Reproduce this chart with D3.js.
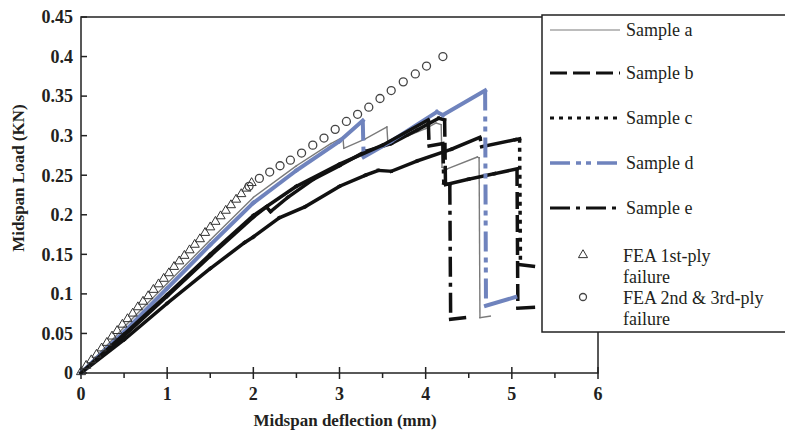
<!DOCTYPE html>
<meta charset="utf-8">
<style>
body { margin: 0; background: #fff; }
text { font-family: "Liberation Serif", "DejaVu Serif", serif; fill: #231f20; }
.tick-label { font-weight: bold; font-size: 18px; }
.axis-title { font-weight: bold; font-size: 17px; }
.legend text { font-size: 18px; }
</style>
<svg width="785" height="433"></svg>
<script src="https://d3js.org/d3.v7.min.js"></script>
<script>

// ---- data ----
var xTicks = [0, 1, 2, 3, 4, 5, 6];
var xMinorTicks = [0.5, 1.5, 2.5, 3.5, 4.5, 5.5];
var yTicks = [0, 0.05, 0.1, 0.15, 0.2, 0.25, 0.3, 0.35, 0.4, 0.45];
var yTickLabels = ["0", "0.05", "0.1", "0.15", "0.2", "0.25", "0.3", "0.35", "0.4", "0.45"];

var sampleA = [[0,0],[0.5,0.058],[1,0.113],[1.5,0.168],[2,0.222],[2.5,0.262],[2.9,0.29],[3.04,0.298],
  [3.05,0.284],[3.3,0.296],[3.55,0.311],[3.56,0.293],[3.8,0.300],[4.0,0.309],[4.12,0.316],[4.18,0.314],
  [4.19,0.26],[4.25,0.258],[4.6,0.273],[4.62,0.272],[4.63,0.07],[4.75,0.072]];

var sampleB = [[0,0],[0.5,0.047],[1,0.097],[1.5,0.148],[2,0.197],[2.15,0.21],[2.2,0.204],[2.4,0.222],
  [2.7,0.245],[3.0,0.262],[3.3,0.28],[3.6,0.29],[3.9,0.307],[4.15,0.322],[4.22,0.32],[4.23,0.238],
  [4.5,0.245],[4.8,0.252],[5.06,0.258],[5.07,0.082],[5.25,0.083]];

var sampleC = [[0,0],[0.5,0.042],[1,0.088],[1.5,0.132],[1.9,0.165],[2.0,0.172],[2.3,0.196],[2.6,0.21],
  [3.0,0.236],[3.3,0.25],[3.45,0.256],[3.6,0.255],[3.9,0.268],[4.3,0.283],[4.63,0.298],[4.65,0.286],
  [5.04,0.295],[5.09,0.296],[5.1,0.137],[5.25,0.135]];

var sampleD = [[0,0],[0.5,0.052],[1,0.107],[1.5,0.162],[2,0.215],[2.5,0.256],[3.0,0.293],[3.27,0.319],
  [3.28,0.273],[3.6,0.293],[4.13,0.33],[4.2,0.326],[4.69,0.357],[4.7,0.085],[5.04,0.096]];

var sampleE = [[0,0],[0.5,0.049],[1,0.099],[1.5,0.15],[2,0.199],[2.5,0.236],[3.0,0.264],[3.5,0.288],
  [4.03,0.32],[4.04,0.287],[4.2,0.29],[4.21,0.24],[4.28,0.238],[4.29,0.068],[4.45,0.07]];

var fea1st = [[0,0],[0.06,0.008],[0.12,0.015],[0.18,0.022],[0.24,0.030],[0.30,0.037],[0.36,0.045],
  [0.42,0.052],[0.48,0.060],[0.54,0.067],[0.60,0.074],[0.66,0.082],[0.72,0.089],[0.78,0.096],
  [0.84,0.104],[0.90,0.111],[0.96,0.118],[1.02,0.125],[1.08,0.133],[1.14,0.140],[1.20,0.147],
  [1.26,0.154],[1.32,0.161],[1.38,0.168],[1.44,0.176],[1.50,0.183],[1.56,0.190],[1.62,0.197],
  [1.68,0.204],[1.74,0.211],[1.80,0.218],[1.86,0.225],[1.92,0.232],[1.98,0.239]];

var fea2nd = [[1.95,0.236],[2.07,0.246],[2.19,0.254],[2.31,0.262],[2.43,0.269],[2.56,0.278],[2.69,0.288],
  [2.82,0.297],[2.95,0.308],[3.08,0.318],[3.21,0.327],[3.34,0.336],[3.47,0.347],[3.60,0.357],
  [3.74,0.368],[3.88,0.378],[4.01,0.388],[4.20,0.400]];

var seriesNames = ["Sample a", "Sample b", "Sample c", "Sample d", "Sample e"];
var seriesData = [sampleA, sampleB, sampleC, sampleD, sampleE];

// ---- styles ----
var styles = [
  {color: "#7a7a7a", width: 1.4, dash: null},
  {color: "#111", width: 3.5, dash: "17,6"},
  {color: "#111", width: 3.5, dash: "4,5"},
  {color: "#6f83bd", width: 4, dash: "20,6,5,5,5,6"},
  {color: "#111", width: 3.5, dash: "20,6,4,6"}
];

var svg = d3.select("svg");

var x = d3.scaleLinear().domain([0, 6]).range([81, 598]);
var y = d3.scaleLinear().domain([0, 0.45]).range([373, 17]);

// plot frame
svg.append("rect")
    .attr("x", x(0)).attr("y", y(0.45))
    .attr("width", x(6) - x(0)).attr("height", y(0) - y(0.45))
    .attr("fill", "none").attr("stroke", "#222").attr("stroke-width", 1.5);

// x ticks
svg.append("g").selectAll("line").data(xTicks).enter().append("line")
    .attr("x1", function(d) { return x(d); }).attr("x2", function(d) { return x(d); })
    .attr("y1", y(0) - 6).attr("y2", y(0) + 6)
    .attr("stroke", "#222").attr("stroke-width", 1.5);
svg.append("g").selectAll("line").data(xMinorTicks).enter().append("line")
    .attr("x1", function(d) { return x(d); }).attr("x2", function(d) { return x(d); })
    .attr("y1", y(0)).attr("y2", y(0) + 5)
    .attr("stroke", "#222").attr("stroke-width", 1.5);
svg.append("g").selectAll("text").data(xTicks).enter().append("text")
    .attr("class", "tick-label")
    .attr("x", function(d) { return x(d); })
    .attr("y", 400)
    .attr("text-anchor", "middle")
    .text(function(d) { return d; });

// y ticks
svg.append("g").selectAll("line").data(yTicks).enter().append("line")
    .attr("x1", x(0)).attr("x2", x(0) + 6)
    .attr("y1", function(d) { return y(d); }).attr("y2", function(d) { return y(d); })
    .attr("stroke", "#222").attr("stroke-width", 1.5);
svg.append("g").selectAll("text").data(yTicks).enter().append("text")
    .attr("class", "tick-label")
    .attr("x", 73)
    .attr("y", function(d) { return y(d); })
    .attr("dy", "0.35em")
    .attr("text-anchor", "end")
    .text(function(d, i) { return yTickLabels[i]; });

// axis titles
svg.append("text").attr("class", "axis-title")
    .attr("x", 345).attr("y", 426).attr("text-anchor", "middle")
    .text("Midspan deflection (mm)");
svg.append("text").attr("class", "axis-title")
    .attr("transform", "translate(24,178) rotate(-90)")
    .attr("text-anchor", "middle")
    .text("Midspan Load (KN)");

// curves: each segment drawn on its own so the dash pattern restarts,
// the steep load drops show the pattern, the dense rising parts look solid
var curves = svg.append("g");
seriesData.forEach(function(data, i) {
  var st = styles[i];
  var segs = d3.pairs(data);
  curves.append("g").selectAll("line").data(segs).enter().append("line")
      .each(function(d) { d.drop = Math.abs(d[1][0] - d[0][0]) < 0.03; })
      .attr("x1", function(d) { return x(d[0][0]); })
      .attr("y1", function(d) { return y(d[0][1]); })
      .attr("x2", function(d) { return x(d[1][0]); })
      .attr("y2", function(d) { return y(d[1][1]); })
      .attr("stroke", st.color)
      .attr("stroke-width", st.width)
      .attr("stroke-linecap", function(d) { return d.drop && st.dash ? "butt" : "square"; })
      .attr("stroke-dasharray", function(d) { return d.drop ? st.dash : null; });
});

// FEA markers
var tri = d3.symbol().type(d3.symbolTriangle).size(36);
svg.append("g").selectAll("path").data(fea1st).enter().append("path")
    .attr("d", tri)
    .attr("transform", function(d) { return "translate(" + x(d[0]) + "," + (y(d[1]) - 1) + ")"; })
    .attr("fill", "none").attr("stroke", "#333").attr("stroke-width", 1);
svg.append("g").selectAll("circle").data(fea2nd).enter().append("circle")
    .attr("cx", function(d) { return x(d[0]); })
    .attr("cy", function(d) { return y(d[1]); })
    .attr("r", 4)
    .attr("fill", "none").attr("stroke", "#444").attr("stroke-width", 1.3);

// legend
var legend = svg.append("g").attr("class", "legend");
legend.append("rect")
    .attr("x", 542).attr("y", 15).attr("width", 260).attr("height", 317)
    .attr("fill", "#fff").attr("stroke", "#222").attr("stroke-width", 1.5);

var legendY = [30, 73, 118, 163, 208];
seriesNames.forEach(function(name, i) {
  var st = styles[i];
  legend.append("line")
      .attr("x1", 550).attr("x2", 620)
      .attr("y1", legendY[i]).attr("y2", legendY[i])
      .attr("stroke", st.color)
      .attr("stroke-width", i === 0 ? 1.2 : st.width - 0.5)
      .attr("stroke-dasharray", st.dash);
  legend.append("text")
      .attr("x", 626).attr("y", legendY[i] + 6)
      .text(name);
});

legend.append("path")
    .attr("d", tri)
    .attr("transform", "translate(583,255)")
    .attr("fill", "none").attr("stroke", "#333").attr("stroke-width", 1);
legend.append("text").attr("x", 623).attr("y", 262).text("FEA 1st-ply");
legend.append("text").attr("x", 623).attr("y", 283).text("failure");
legend.append("circle")
    .attr("cx", 583).attr("cy", 297).attr("r", 3.5)
    .attr("fill", "none").attr("stroke", "#444").attr("stroke-width", 1.3);
legend.append("text").attr("x", 623).attr("y", 304).text("FEA 2nd & 3rd-ply");
legend.append("text").attr("x", 623).attr("y", 325).text("failure");

</script>
